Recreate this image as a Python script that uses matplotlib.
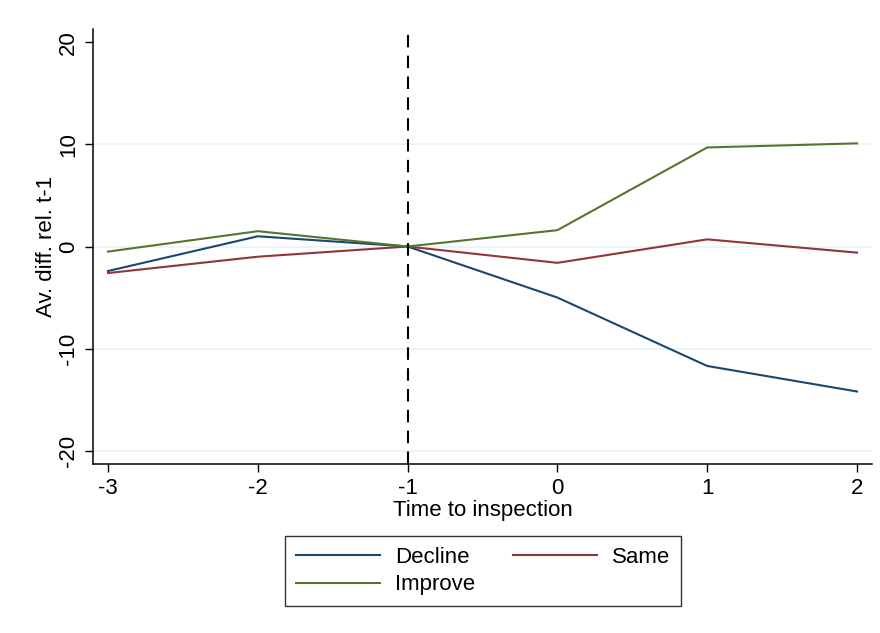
import numpy as np
import matplotlib
matplotlib.use('Agg')
import matplotlib.pyplot as plt

plt.rcParams['font.family'] = ['Liberation Sans', 'DejaVu Sans']
plt.rcParams['axes.unicode_minus'] = False

# values
time_to_insp = [-3, -2, -1, 0, 1, 2]
decline = [-2.4, 1.0, 0.0, -5.0, -11.7, -14.2]
same = [-2.6, -1.0, 0.0, -1.6, 0.7, -0.6]
improve = [-0.5, 1.5, 0.0, 1.6, 9.7, 10.1]
y_ticks = [-20, -10, 0, 10, 20]
grid_lines = [-20, -10, 0, 10]

navy = '#1a476f'
maroon = '#90353b'
green = '#55752f'

fig = plt.figure(figsize=(8.8, 6.33), dpi=100)
ax = fig.add_axes([93 / 880, 1 - 464 / 633, (872 - 93) / 880, (464 - 29) / 633])

for g in grid_lines:
    ax.axhline(g, color='#eaf2f3', linewidth=1.2, zorder=0)

l1, = ax.plot(time_to_insp, decline, color=navy, linewidth=1.5, label='Decline')
l2, = ax.plot(time_to_insp, same, color=maroon, linewidth=1.5, label='Same')
l3, = ax.plot(time_to_insp, improve, color=green, linewidth=1.5, label='Improve')
ax.axvline(-1, color='black', linewidth=1.5, linestyle=(0, (6, 4)), zorder=3)

ax.set_xlim(-3.1, 2.1)
ax.set_ylim(-21.3, 21.3)
ax.set_xticks(time_to_insp)
ax.set_yticks(y_ticks)
ax.set_yticklabels([str(v) for v in y_ticks], rotation=90, va='center')
ax.tick_params(axis='both', direction='out', length=6, width=1, labelsize=16, pad=4)
ax.spines['top'].set_visible(False)
ax.spines['right'].set_visible(False)
ax.spines['left'].set_linewidth(1.1)
ax.spines['bottom'].set_linewidth(1.1)

ax.set_xlabel('Time to inspection', fontsize=16, labelpad=1)
ax.set_ylabel('Av. diff. rel. t-1', fontsize=16, labelpad=1)

leg = fig.legend([l1, l3, l2], ['Decline', 'Improve', 'Same'], ncol=2,
                 loc='center', bbox_to_anchor=(483 / 880, 1 - 571 / 633),
                 fontsize=16, frameon=True, fancybox=False, edgecolor='black',
                 handlelength=3.8, columnspacing=1.7, handletextpad=0.65,
                 borderpad=0.5, labelspacing=0.3)
leg.get_frame().set_linewidth(1.0)

plt.savefig('out.png', dpi=100)
